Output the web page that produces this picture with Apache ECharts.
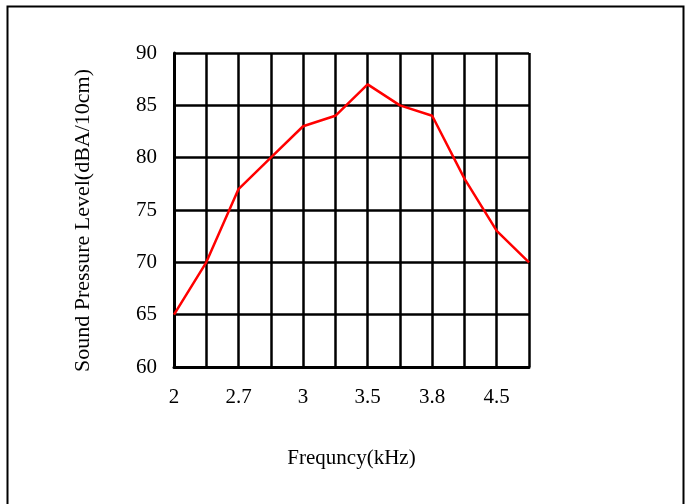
<!DOCTYPE html>
<html><head><meta charset="utf-8">
<script src="https://cdn.jsdelivr.net/npm/echarts@6/dist/echarts.min.js"></script>
<style>html,body{margin:0;padding:0;background:#fff}#c{width:692px;height:504px}</style>
</head><body><div id="c"></div>
<script>
const frequencies = ['2','2.35','2.7','2.85','3','3.25','3.5','3.65','3.8','4.15','4.5','4.75'];
const soundLevels = [65,70,77,80,83,84,87,85,84,78,73,70];
const yTicks = {min:60,max:90,interval:5};
const xTitle = 'Frequncy(kHz)';
const yTitle = 'Sound Pressure Level(dBA/10cm)';
const font = 'Liberation Serif';
const chart = echarts.init(document.getElementById('c'));
chart.setOption({
  animation:false,
  graphic:[{type:'rect',shape:{x:7.5,y:6.5,width:676,height:510},style:{fill:'none',stroke:'#000',lineWidth:2}}],
  grid:{left:174,right:163,top:53,bottom:137},
  xAxis:{type:'category',data:frequencies,boundaryGap:false,
    name:xTitle,nameLocation:'middle',nameGap:81,
    nameTextStyle:{fontFamily:font,fontSize:21,color:'#000'},
    axisLine:{show:true,lineStyle:{color:'#000',width:3}},
    axisTick:{show:false},
    axisLabel:{interval:1,margin:20,fontFamily:font,fontSize:21,color:'#000'},
    splitLine:{show:true,interval:0,lineStyle:{color:'#000',width:2.5}}},
  yAxis:{type:'value',min:yTicks.min,max:yTicks.max,interval:yTicks.interval,
    name:yTitle,nameLocation:'middle',nameGap:80,
    nameTextStyle:{fontFamily:font,fontSize:22,color:'#000',padding:[0,21,0,0]},
    axisLine:{show:true,lineStyle:{color:'#000',width:3}},
    axisTick:{show:false},
    axisLabel:{margin:17,fontFamily:font,fontSize:21,color:'#000'},
    splitLine:{show:true,lineStyle:{color:'#000',width:2.5}}},
  series:[{type:'line',data:soundLevels,symbol:'none',z:5,
    lineStyle:{color:'#ff0000',width:2.5}}]
});
</script></body></html>
